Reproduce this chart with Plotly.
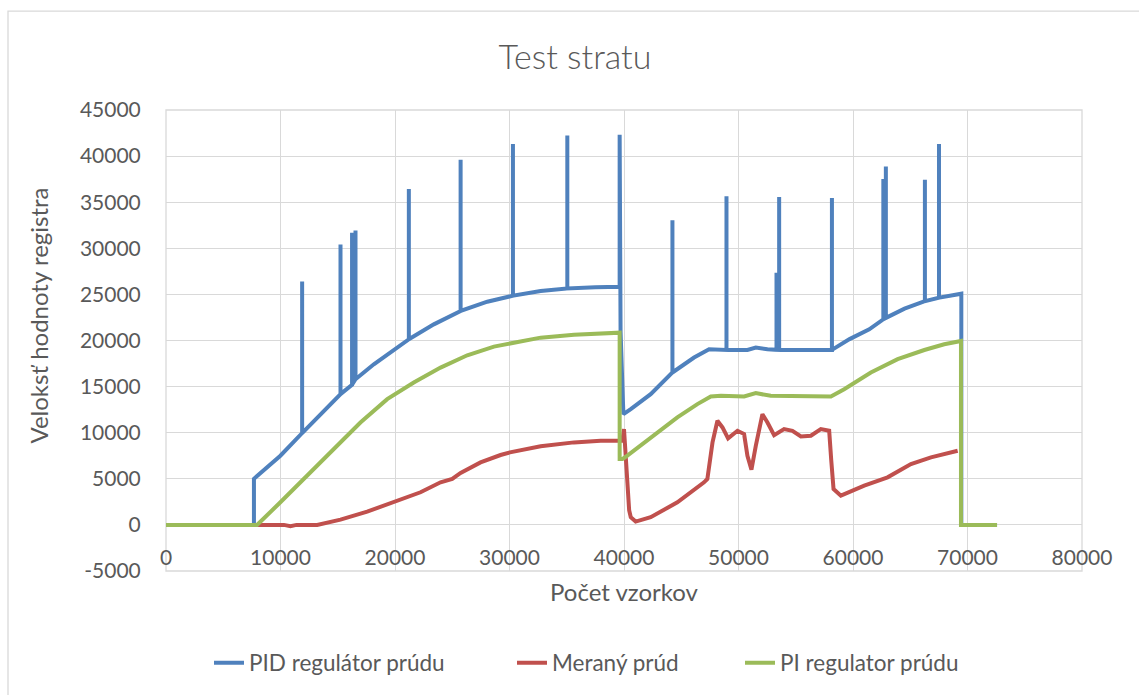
import plotly.graph_objects as go

# ---- series data (sample index, register value) ----
pid_x = [0, 7680, 7680, 9990, 11890, 11890, 11890, 15240, 15240, 15240, 16250, 16250,
         16250, 16550, 16550, 16550, 18150, 19980, 21210, 21210, 21210, 23390, 25730,
         25730, 25730, 28060, 30300, 30300, 30300, 32720, 35050, 35050, 35050, 37500,
         39620, 39620, 39700, 39900, 39950, 40590, 42330, 44230, 44230, 44230, 46120,
         47430, 48950, 48950, 48950, 50780, 51510, 52530, 53320, 53320, 53320, 53550,
         53550, 53550, 55500, 58160, 58160, 58160, 59700, 61420, 62650, 62650, 62650,
         62870, 62870, 62870, 64500, 66280, 66280, 66280, 67510, 67510, 67510, 69460,
         69460, 69460, 72580]
pid_y = [0, 0, 5000, 7500, 9960, 26400, 9960, 14180, 30400, 14180, 15200, 31700,
         15200, 15800, 31930, 15800, 17420, 19050, 20130, 36440, 20130, 21750, 23200,
         39610, 23200, 24210, 24860, 41300, 24860, 25360, 25650, 42240, 25650, 25780,
         25830, 42320, 21000, 13600, 12010, 12550, 14180, 16530, 33040, 16530, 18150,
         19050, 18980, 35640, 18980, 18980, 19230, 19050, 18990, 27350, 18990, 18980,
         35570, 18980, 18980, 18980, 35460, 18980, 20150, 21210, 22300, 37520, 22300,
         22450, 38880, 22450, 23450, 24270, 37440, 24270, 24640, 41300, 24640, 25080,
         20000, 0, 0]

meas_x = [0, 7950, 10300, 10870, 11400, 13200, 15240, 17570, 19980, 22230, 23980,
          25000, 25730, 27470, 29220, 30040, 32720, 35630, 37960, 39560, 39860, 40000,
          40150, 40300, 40450, 40590, 41020, 42330, 44660, 46990, 47280, 47730, 48160,
          48600, 49090, 49910, 50490, 50780, 51130, 51510, 52090, 52530, 53110, 53980,
          54710, 55450, 56320, 57190, 57920, 58100, 58300, 58940, 60980, 63020, 65060,
          66810, 68200, 69140]
meas_y = [0, 0, 0, -140, 0, 0, 570, 1440, 2520, 3540, 4620,
          4980, 5630, 6780, 7580, 7870, 8520, 8950, 9130, 9060, 9130, 10390,
          7000, 3170, 1600, 830, 360, 830, 2450, 4620, 4980, 8950, 11290,
          10570, 9380, 10210, 9850, 7500, 5990, 8580, 12010, 11110, 9740, 10390,
          10210, 9600, 9670, 10390, 10210, 7000, 3900, 3170, 4260, 5160, 6600,
          7330, 7800, 8040]

pi_x = [0, 7950, 9990, 12320, 14650, 16980, 19320, 19980, 21640, 23980, 26310,
        28640, 30040, 32720, 35630, 38550, 39620, 39620, 39860, 40150, 42330, 44660,
        46410, 47580, 48460, 50490, 51510, 52820, 58070, 59230, 61560, 63900, 66230,
        67970, 69430, 69430, 72580]
pi_y = [0, 0, 2450, 5340, 8230, 11110, 13640, 14180, 15440, 17060, 18400,
        19340, 19700, 20310, 20630, 20780, 20850, 7140, 7140, 7390, 9490, 11660,
        13100, 13930, 14000, 13930, 14290, 14000, 13930, 14720, 16530, 17970, 18970,
        19590, 19950, 0, 0]

series_names = ["PID regulátor prúdu", "Meraný prúd", "PI regulator prúdu"]
series_colors = ["#4F81BD", "#C0504D", "#9BBB59"]

x_ticks = [0, 10000, 20000, 30000, 40000, 50000, 60000, 70000, 80000]
x_ticktext = ["0", "10000", "20000", "30000", "40000", "50000", "60000", "70000", "80000"]
y_ticks = [-5000, 0, 5000, 10000, 15000, 20000, 25000, 30000, 35000, 40000, 45000]
y_ticktext = ["-5000", "0", "5000", "10000", "15000", "20000", "25000", "30000",
              "35000", "40000", "45000"]

FONT = "Lato, 'Open Sans', sans-serif"
TXT = "#595959"
GRID = "#d9d9d9"

W, H = 1139, 695
L, R, T, B = 166, 57, 110, 123
pw, ph = W - L - R, H - T - B


def px_x(p):
    return (p - L) / pw


def px_y(p):
    return (H - B - p) / ph


# legend entries: where each label's text begins
legend_text_left = [254, 557, 785]
legend_ids = ["legend", "legend2", "legend3"]

fig = go.Figure()
for xs, ys, name, col, lg in zip([pid_x, meas_x, pi_x], [pid_y, meas_y, pi_y],
                                 series_names, series_colors, legend_ids):
    fig.add_trace(go.Scatter(x=xs, y=ys, mode="lines", name=name, legend=lg,
                             line=dict(color=col, width=4)))

legend_common = dict(orientation="h", xanchor="left", yanchor="middle",
                     y=px_y(663), font=dict(size=22.5, color=TXT),
                     bgcolor="rgba(0,0,0,0)", borderwidth=0)

fig.update_layout(
    width=W, height=H,
    margin=dict(l=L, r=R, t=T, b=B, pad=0),
    paper_bgcolor="white", plot_bgcolor="white",
    font=dict(family=FONT, color=TXT, size=20),
    showlegend=True,
    legend=dict(x=px_x(legend_text_left[0] - 45), **legend_common),
    legend2=dict(x=px_x(legend_text_left[1] - 45), **legend_common),
    legend3=dict(x=px_x(legend_text_left[2] - 45), **legend_common),
    xaxis=dict(range=[0, 80000], tickvals=x_ticks, ticktext=x_ticktext,
               showgrid=True, gridcolor=GRID, gridwidth=1.3, zeroline=False,
               showline=False, anchor="free", position=0.1,
               ticks="outside", ticklen=14, tickcolor="rgba(0,0,0,0)",
               tickfont=dict(size=21, color=TXT)),
    yaxis=dict(range=[-5000, 45000], tickvals=y_ticks, ticktext=y_ticktext,
               showgrid=True, gridcolor=GRID, gridwidth=1.3, zeroline=False,
               showline=False, ticks="outside", ticklen=20,
               tickcolor="rgba(0,0,0,0)", tickfont=dict(size=21, color=TXT)),
    title=dict(text="Test stratu", x=575 / W, xanchor="center",
               y=1 - 57 / H, yanchor="middle",
               font=dict(size=34, color=TXT, weight=300)),
)

# plot area frame and chart frame
fig.add_shape(type="rect", xref="paper", yref="paper", x0=0, x1=1, y0=0, y1=1,
              line=dict(color=GRID, width=1.3), layer="below")
fig.add_shape(type="rect", xref="paper", yref="paper",
              x0=px_x(8), x1=px_x(1150), y0=px_y(705), y1=px_y(11),
              line=dict(color=GRID, width=1.3), layer="below")

# axis titles
fig.add_annotation(text="Počet vzorkov", xref="paper", yref="paper",
                   x=0.5, y=px_y(593), xanchor="center", yanchor="middle",
                   showarrow=False, font=dict(size=24, color=TXT))
fig.add_annotation(text="Veloksť hodnoty registra", xref="paper", yref="paper",
                   x=px_x(39), y=px_y(316), xanchor="center", yanchor="middle",
                   textangle=-90, showarrow=False, font=dict(size=24, color=TXT))

fig.write_html("out.html")
